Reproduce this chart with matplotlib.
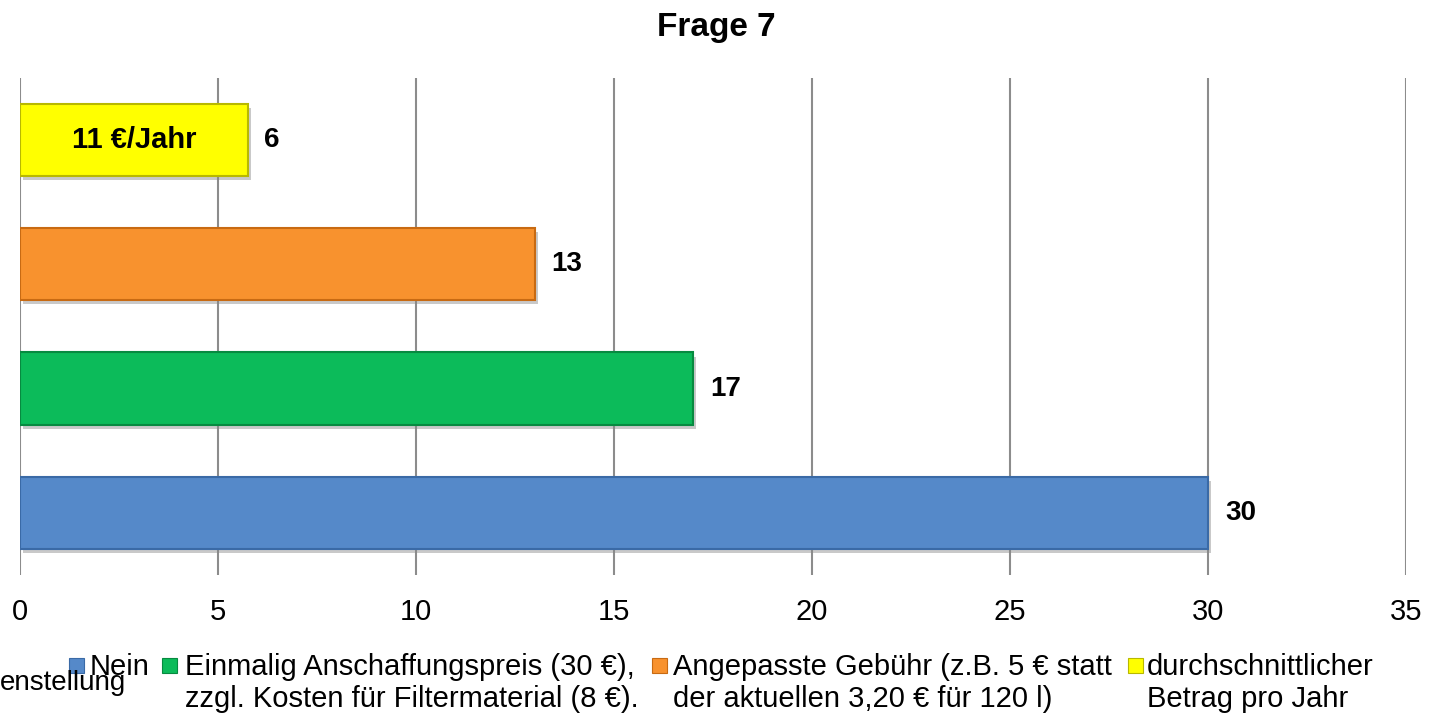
import matplotlib.pyplot as plt
import matplotlib.patheffects as pe
from matplotlib.patches import Rectangle

plt.rcParams['font.family'] = ['Liberation Sans', 'DejaVu Sans']

# data (bottom to top)
categories = ['Nein',
              'Einmalig Anschaffungspreis (30 €),\nzzgl. Kosten für Filtermaterial (8 €).',
              'Angepasste Gebühr (z.B. 5 € statt\nder aktuellen 3,20 € für 120 l)',
              'durchschnittlicher\nBetrag pro Jahr']
values = [30, 17, 13, 5.75]
value_labels = ['30', '17', '13', '6']
colors = ['#5589c9', '#0cbb5a', '#f8922e', '#ffff00']
edges = ['#3a6aa6', '#078a40', '#c86a12', '#b8b800']
xticks = [0, 5, 10, 15, 20, 25, 30, 35]

W, H = 1432, 715
fig = plt.figure(figsize=(W / 100, H / 100), dpi=100)
ax = fig.add_axes([0.014, 0.196, 0.968, 0.695])

ypos = list(range(len(values)))
bars = ax.barh(ypos, values, height=0.58, color=colors, edgecolor=edges,
               linewidth=1.5, zorder=3)
for b in bars:
    b.set_path_effects([pe.SimplePatchShadow(offset=(2, -3), shadow_rgbFace='#888888', alpha=0.45),
                        pe.Normal()])

for y, v, lab in zip(ypos, values, value_labels):
    ax.annotate(lab, (v, y), xytext=(12, 0), textcoords='offset points',
                ha='left', va='center', fontsize=20, fontweight='bold')

ax.text(values[3] / 2, ypos[3], '11 €/Jahr', ha='center', va='center',
        fontsize=21, fontweight='bold', zorder=4)

ax.set_xlim(0, 35)
ax.set_ylim(-0.5, 3.5)
ax.set_xticks(xticks)
ax.set_yticks([])
ax.tick_params(axis='x', length=0, labelsize=21, pad=17)
ax.grid(axis='x', color='#8c8c8c', linewidth=1.5, zorder=0)
ax.set_axisbelow(True)
for s in ax.spines.values():
    s.set_visible(False)

fig.text(0.5, 1 - 36 / H, 'Frage 7', ha='center', va='baseline',
         fontsize=24, fontweight='bold')

# legend drawn by hand so markers line up with the first text line
marker_x = [69, 162, 652, 1128]
text_x = [90, 185, 673, 1147]
for i in range(len(categories)):
    fig.patches.append(Rectangle((marker_x[i] / W, 1 - 673 / H), 15 / W, 15 / H,
                                 transform=fig.transFigure, facecolor=colors[i],
                                 edgecolor=edges[i], linewidth=0.8))
    for j, line in enumerate(categories[i].split('\n')):
        fig.text(text_x[i] / W, 1 - (675 + 32 * j) / H, line, ha='left',
                 va='baseline', fontsize=21)

fig.text(0.0, 1 - 683 / H, 'enstellung', ha='left', va='center', fontsize=20)

plt.savefig('out.png', dpi=100)
